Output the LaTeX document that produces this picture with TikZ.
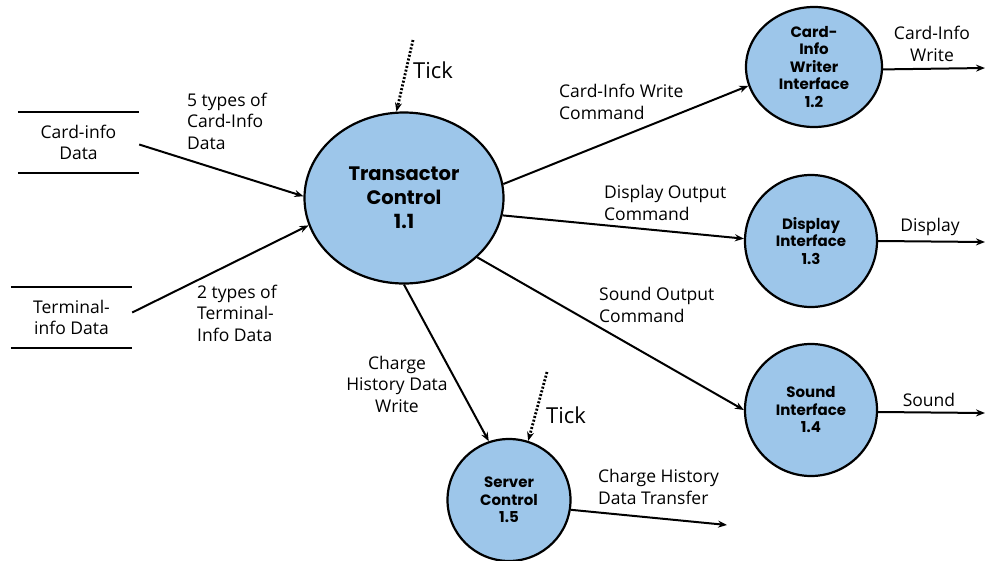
\documentclass[tikz,border=0pt]{standalone}
\usepackage{fontspec}
\setmainfont{Open Sans}
\newfontfamily\popfont{Poppins}
\usetikzlibrary{shapes.geometric,arrows.meta}
\definecolor{procblue}{RGB}{157,198,234}
\begin{document}
\begin{tikzpicture}[x=1pt,y=-1pt,
  proc/.style={ellipse,draw,line width=2.2pt,fill=procblue,inner sep=0pt,align=center},
  bigtxt/.style={font=\popfont\bfseries\fontsize{19.5}{24}\selectfont},
  smalltxt/.style={font=\popfont\bfseries\fontsize{15}{17.5}\selectfont},
  flow/.style={line width=2pt,-{Stealth[length=9pt,width=7pt]}},
  tickflow/.style={line width=2.8pt,dash pattern=on 2pt off 1.8pt,-{Stealth[length=9pt,width=7pt]}},
  lbl/.style={font=\fontsize{17.5}{21.5}\selectfont,inner sep=0pt},
  ticklbl/.style={font=\fontsize{22}{26}\selectfont,inner sep=0pt},
  store/.style={minimum width=121pt,minimum height=61pt,inner sep=0pt,align=center,font=\fontsize{17.5}{21.5}\selectfont}
]
\useasboundingbox (0,0) rectangle (986,560);

% processes
\node[proc,bigtxt,minimum width=199pt,minimum height=171pt] (tc) at (404,198) {Transactor\\Control\\1.1};
\node[proc,smalltxt,minimum width=136pt,minimum height=120pt] (cw) at (814,67) {Card-\\Info\\Writer\\Interface\\1.2};
\node[proc,smalltxt,minimum width=132pt,minimum height=132pt] (di) at (811,241) {Display\\Interface\\1.3};
\node[proc,smalltxt,minimum width=132pt,minimum height=132pt] (si) at (811,410) {Sound\\Interface\\1.4};
\node[proc,smalltxt,minimum width=123pt,minimum height=122pt] (sc) at (509,500) {Server\\Control\\1.5};

% data stores
\node[store] (cs) at (78.5,142.5) {Card-info\\Data};
\draw[line width=2.2pt] (cs.north west) -- (cs.north east) (cs.south west) -- (cs.south east);
\node[store] (ts) at (71.5,317.5) {Terminal-\\info Data};
\draw[line width=2.2pt] (ts.north west) -- (ts.north east) (ts.south west) -- (ts.south east);

% free ends
\coordinate (t1) at (413,40);
\coordinate (t2) at (547,372);
\coordinate (o1) at (985,68);
\coordinate (o2) at (985,242);
\coordinate (o3) at (985,413);
\coordinate (o4) at (727,525);

% connectors
\draw[flow] ([yshift=-2pt]cs.east) -- (tc.179);
\draw[flow] ([yshift=5pt]ts.east) -- (tc.196);
\draw[tickflow] (t1) -- (tc.95);
\draw[flow] (tc.8) -- (cw.196);
\draw[flow] (tc.350) -- (di.178);
\draw[flow] (tc.321) -- (si.180);
\draw[flow] (tc.270) -- (sc.109);
\draw[tickflow] (t2) -- (sc.72);
\draw[flow] (sc.351) -- (o4);
\draw[flow] (cw.358) -- (o1);
\draw[flow] (di.east) -- (o2);
\draw[flow] ([yshift=-2pt]si.east) -- (o3);

% labels
\node[lbl,anchor=west,align=left] (l1) at (187,121) {5 types of\\Card-Info\\Data};
\node[lbl,anchor=west,align=left] (l2) at (197,313) {2 types of\\Terminal-\\Info Data};
\node[ticklbl,anchor=west] (tk1) at (413,70) {Tick};
\node[ticklbl,anchor=west] (tk2) at (546,415) {Tick};
\node[lbl,anchor=west,align=left] (l3) at (559,102) {Card-Info Write\\Command};
\node[lbl,anchor=west,align=left] (l4) at (604,203) {Display Output\\Command};
\node[lbl,anchor=west,align=left] (l5) at (599,305) {Sound Output\\Command};
\node[lbl,align=center] (l6) at (397,384) {Charge\\History Data\\Write};
\node[lbl,anchor=west,align=left] (l7) at (598,487) {Charge History\\Data Transfer};
\node[lbl,align=center] (l8) at (932,44) {Card-Info\\Write};
\node[lbl] (l9) at (930,227) {Display};
\node[lbl] (l10) at (929,400) {Sound};
\end{tikzpicture}
\end{document}
